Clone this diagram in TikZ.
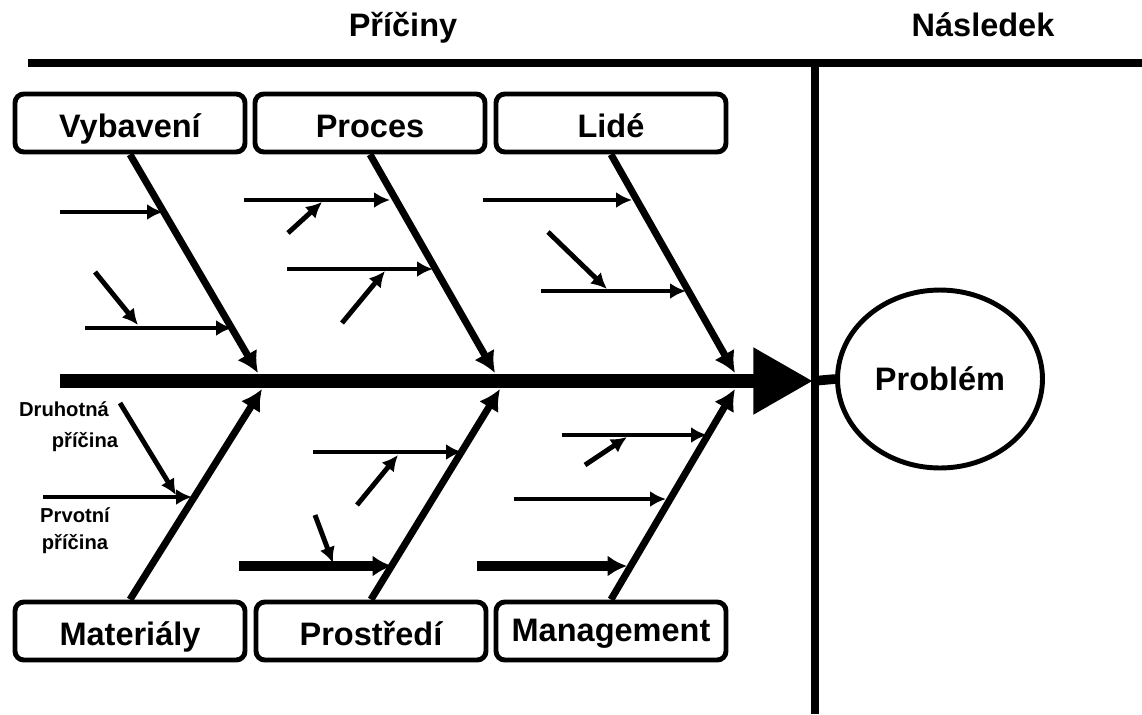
\documentclass[tikz,border=0pt]{standalone}
\usepackage{fontspec}
\setmainfont{Liberation Sans}
\usetikzlibrary{arrows.meta,shapes.geometric}
\begin{document}
\begin{tikzpicture}[x=0.02cm,y=-0.02cm]
	\tikzstyle{every node}+=[inner sep=0pt,font=\bfseries\fontsize{18.5}{20}\selectfont]
	\tikzstyle{cat}=[draw,line width=2.8pt,rounded corners=5pt,minimum width=4.6cm,minimum height=1.16cm,text height=17pt,text depth=1pt]
	\tikzstyle{bone}=[line width=4pt,-{Latex[length=12pt,width=13pt]}]
	\tikzstyle{sub}=[line width=2.8pt,-{Latex[length=9pt,width=9pt]}]
	\tikzstyle{subthick}=[line width=5.5pt,-{Latex[length=11pt,width=12pt]}]
	\tikzstyle{small}=[font=\bfseries\fontsize{11.5}{17.5}\selectfont]
	\useasboundingbox (0,0) rectangle (1142,714);

	% headings and frame
	\node [anchor=base] (priciny) at (403,36) {Příčiny};
	\node [anchor=base] (nasledek) at (983,36) {Následek};
	\coordinate (topl) at (28,63);
	\coordinate (topr) at (1142,63);
	\coordinate (vtop) at (815,63);
	\coordinate (vbot) at (815,714);
	\draw [line width=4pt] (topl) -- (topr);
	\draw [line width=5pt] (vtop) -- (vbot);

	% categories
	\node [cat] (vyb) at (130,123) {Vybavení};
	\node [cat] (proc) at (370,123) {Proces};
	\node [cat] (lide) at (611,123) {Lidé};
	\node [cat] (mat) at (130,631) {Materiály};
	\node [cat] (prost) at (371,631) {Prostředí};
	\node [cat] (man) at (611,631) {\raisebox{2pt}{Management}};

	% effect
	\node [draw,ellipse,line width=2.8pt,minimum width=4.1cm,minimum height=3.56cm] (prob) at (940,379) {Problém};

	% spine
	\coordinate (sp0) at (60,381);
	\coordinate (sp1) at (813,381);
	\draw [line width=8pt,-{Triangle[length=34pt,width=36pt]}] (sp0) -- (sp1);
	\draw [line width=5.5pt] (sp1) -- (prob.west);

	% main bones
	\coordinate (j1) at (258,373);
	\coordinate (j2) at (495,373);
	\coordinate (j3) at (735,373);
	\coordinate (j4) at (262,389);
	\coordinate (j5) at (500,389);
	\coordinate (j6) at (735,389);
	\draw [bone] (vyb.south) -- (j1);
	\draw [bone] (proc.south) -- (j2);
	\draw [bone] (lide.south) -- (j3);
	\draw [bone] (mat.north) -- (j4);
	\draw [bone] (prost.north) -- (j5);
	\draw [bone] (man.north) -- (j6);

	% Vybaveni
	\coordinate (a1s) at (60,212);  \coordinate (a1e) at (163,212);
	\coordinate (a2s) at (85,328);  \coordinate (a2e) at (232,328);
	\coordinate (a3s) at (95,272);  \coordinate (a3e) at (138,325);
	\draw [sub] (a1s) -- (a1e);
	\draw [sub] (a2s) -- (a2e);
	\draw [sub] (a3s) -- (a3e);

	% Proces
	\coordinate (b1s) at (244,200); \coordinate (b1e) at (390,200);
	\coordinate (b2s) at (287,269); \coordinate (b2e) at (433,269);
	\coordinate (b3s) at (288,233); \coordinate (b3e) at (322,202);
	\coordinate (b4s) at (342,323); \coordinate (b4e) at (385,271);
	\draw [sub] (b1s) -- (b1e);
	\draw [sub] (b2s) -- (b2e);
	\draw [sub] (b3s) -- (b3e);
	\draw [sub] (b4s) -- (b4e);

	% Lide
	\coordinate (c1s) at (483,200); \coordinate (c1e) at (632,200);
	\coordinate (c2s) at (541,291); \coordinate (c2e) at (686,291);
	\coordinate (c3s) at (548,232); \coordinate (c3e) at (607,289);
	\draw [sub] (c1s) -- (c1e);
	\draw [sub] (c2s) -- (c2e);
	\draw [sub] (c3s) -- (c3e);

	% Materialy
	\coordinate (d1s) at (43,497);  \coordinate (d1e) at (192,497);
	\coordinate (d2s) at (120,403); \coordinate (d2e) at (176,495);
	\draw [sub] (d1s) -- (d1e);
	\draw [sub] (d2s) -- (d2e);
	\node [small,anchor=base] (dru) at (64,416) {Druhotná};
	\node [small,anchor=base] (drp) at (85,447) {příčina};
	\node [small,anchor=base] (prv) at (75,522) {Prvotní};
	\node [small,anchor=base] (prp) at (75,549) {příčina};

	% Prostredi
	\coordinate (e1s) at (313,452); \coordinate (e1e) at (462,452);
	\coordinate (e2s) at (239,566); \coordinate (e2e) at (392,566);
	\coordinate (e3s) at (357,505); \coordinate (e3e) at (398,455);
	\coordinate (e4s) at (315,515); \coordinate (e4e) at (333,563);
	\draw [sub] (e1s) -- (e1e);
	\draw [subthick] (e2s) -- (e2e);
	\draw [sub] (e3s) -- (e3e);
	\draw [sub] (e4s) -- (e4e);

	% Management
	\coordinate (f1s) at (562,435); \coordinate (f1e) at (707,435);
	\coordinate (f2s) at (514,499); \coordinate (f2e) at (666,499);
	\coordinate (f3s) at (477,566); \coordinate (f3e) at (627,566);
	\coordinate (f4s) at (585,465); \coordinate (f4e) at (627,437);
	\draw [sub] (f1s) -- (f1e);
	\draw [sub] (f2s) -- (f2e);
	\draw [subthick] (f3s) -- (f3e);
	\draw [sub] (f4s) -- (f4e);
\end{tikzpicture}
\end{document}
